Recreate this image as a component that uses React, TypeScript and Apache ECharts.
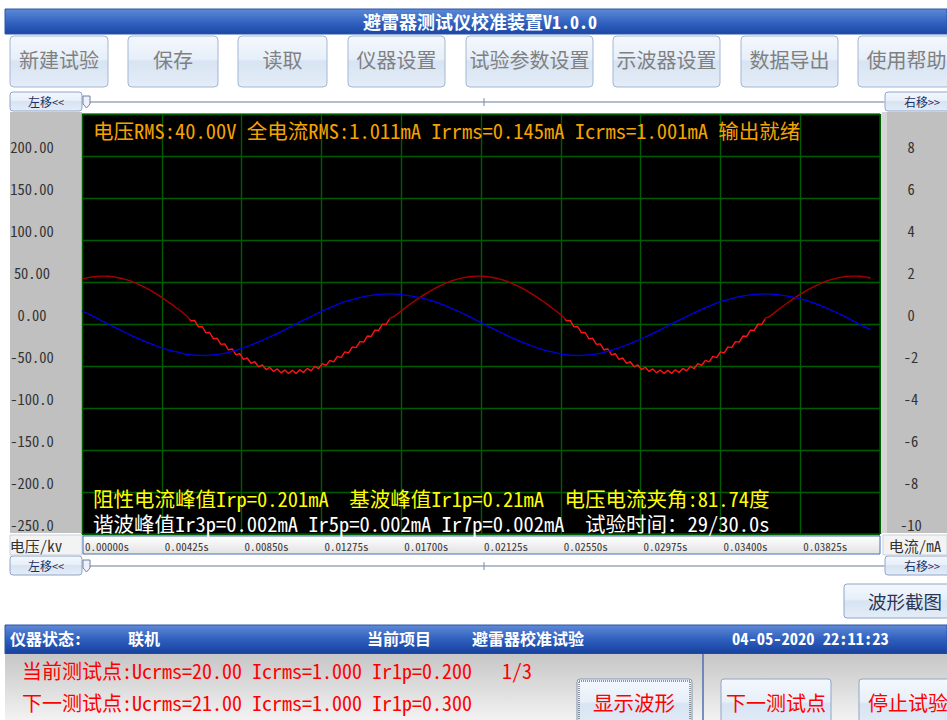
import React, { useEffect, useRef } from 'react';
import * as echarts from 'echarts';

const W = 947;
const H = 720;

// ---- data ----
// voltage trace (red, left axis), one sample every 0.2 ms starting at 0 ms
const redStepMs = 0.2;
const redVoltage = [
  53.5, 54.6, 55.5, 56.2, 56.7, 57.0, 57.0, 56.8, 56.4, 55.7,
  54.8, 53.8, 52.5, 51.0, 49.2, 47.3, 45.3, 43.0, 40.6, 38.0,
  35.2, 32.3, 29.3, 26.2, 23.0, 19.6, 16.3, 12.8, 9.3, 3.7,
  4.1, -3.4, -3.0, -10.6, -10.1, -17.6, -17.0, -24.3, -23.6, -30.7,
  -29.7, -36.7, -35.4, -42.1, -40.5, -46.8, -44.9, -50.9, -48.6, -54.2,
  -51.5, -56.6, -53.5, -58.2, -54.7, -59.0, -55.0, -58.8, -54.4, -57.7,
  -52.8, -55.8, -50.5, -53.0, -47.2, -49.3, -43.3, -45.0, -38.6, -40.0,
  -33.2, -34.3, -27.3, -28.2, -21.0, -21.6, -14.3, -14.8, -7.3, -7.7,
  -0.1, -0.6, 7.0, 8.6, 12.1, 15.6, 19.0, 22.3, 25.6, 28.7,
  31.7, 34.7, 37.4, 40.1, 42.5, 44.8, 46.9, 48.9, 50.6, 52.2,
  53.5, 54.6, 55.5, 56.2, 56.7, 57.0, 57.0, 56.8, 56.4, 55.7,
  54.8, 53.8, 52.5, 51.0, 49.2, 47.3, 45.3, 43.0, 40.6, 38.0,
  35.2, 32.3, 29.3, 26.2, 23.0, 19.6, 16.3, 12.8, 9.3, 3.7,
  4.1, -3.4, -3.0, -10.6, -10.1, -17.6, -17.0, -24.3, -23.6, -30.7,
  -29.7, -36.7, -35.4, -42.1, -40.5, -46.8, -44.9, -50.9, -48.6, -54.2,
  -51.5, -56.6, -53.5, -58.2, -54.7, -59.0, -55.0, -58.8, -54.4, -57.7,
  -52.8, -55.8, -50.5, -53.0, -47.2, -49.3, -43.3, -45.0, -38.6, -40.0,
  -33.2, -34.3, -27.3, -28.2, -21.0, -21.6, -14.3, -14.8, -7.3, -7.7,
  -0.1, -0.6, 7.0, 8.6, 12.1, 15.6, 19.0, 22.3, 25.6, 28.7,
  31.7, 34.7, 37.4, 40.1, 42.5, 44.8, 46.9, 48.9, 50.6, 52.2,
  53.5, 54.6, 55.5, 56.2, 56.7, 57.0, 57.0, 56.8, 56.4, 55.7,
  54.8,
];

// current trace (blue, right axis), one sample every 0.5 ms starting at 0 ms
const blueStepMs = 0.5;
const blueCurrent = [
  0.62, 0.41, 0.18, -0.05, -0.27, -0.49, -0.70, -0.89, -1.06, -1.21,
  -1.32, -1.43, -1.48, -1.50, -1.47, -1.41, -1.30, -1.16, -1.00, -0.82,
  -0.62, -0.41, -0.18, 0.05, 0.27, 0.49, 0.70, 0.89, 1.06, 1.19,
  1.30, 1.37, 1.42, 1.43, 1.40, 1.34, 1.26, 1.14, 0.99, 0.82,
  0.62, 0.41, 0.18, -0.05, -0.27, -0.49, -0.70, -0.89, -1.06, -1.21,
  -1.32, -1.43, -1.48, -1.50, -1.47, -1.41, -1.30, -1.16, -1.00, -0.82,
  -0.62, -0.41, -0.18, 0.05, 0.27, 0.49, 0.70, 0.89, 1.06, 1.19,
  1.30, 1.37, 1.42, 1.43, 1.40, 1.34, 1.26, 1.14, 0.99, 0.82,
  0.62, 0.41, 0.18, -0.05, -0.27,
];

const timeTickLabels = ['0.00000s', '0.00425s', '0.00850s', '0.01275s', '0.01700s', '0.02125s', '0.02550s', '0.02975s', '0.03400s', '0.03825s'];
const voltTickLabels = ['-250.0', '-200.0', '-150.0', '-100.0', '-50.00', '0.00', '50.00', '100.00', '150.00', '200.00'];
const currentTickLabels = ['-10', '-8', '-6', '-4', '-2', '0', '2', '4', '6', '8'];

const toolbarLabels = ['新建试验', '保存', '读取', '仪器设置', '试验参数设置', '示波器设置', '数据导出', '使用帮助'];

const overlayTop = '电压RMS:40.00V 全电流RMS:1.011mA Irrms=0.145mA Icrms=1.001mA 输出就绪';
const overlayYellow = '阻性电流峰值Irp=0.201mA  基波峰值Ir1p=0.21mA  电压电流夹角:81.74度';
const overlayWhite = '谐波峰值Ir3p=0.002mA Ir5p=0.002mA Ir7p=0.002mA  试验时间：29/30.0s';
const currentPoint = '当前测试点:Ucrms=20.00 Icrms=1.000 Ir1p=0.200   1/3';
const nextPoint = '下一测试点:Ucrms=21.00 Icrms=1.000 Ir1p=0.300';

// ---- layout (UI chrome) ----
const FONT = "'Noto Sans Mono CJK SC', 'Liberation Mono', 'Noto Sans CJK SC', monospace";
const toolbarBoxes = [
  [10, 98], [128, 90], [238, 89], [348, 97], [466, 127], [613, 107], [741, 97], [858, 97],
];
const G = { left: 82, top: 114, width: 798, height: 420 };

function vgrad(stops: [number, string][]) {
  return new echarts.graphic.LinearGradient(0, 0, 0, 1, stops.map(([offset, color]) => ({ offset, color })));
}

function txt(x: number, y: number, text: string, size: number, fill: string, opts: any = {}) {
  const align = opts.align || 'center';
  return {
    type: 'text',
    x,
    y,
    z: opts.z ?? 20,
    silent: true,
    style: {
      text,
      fill,
      fontSize: size,
      lineHeight: Math.round(size),
      fontFamily: opts.family || FONT,
      fontWeight: opts.weight || 'normal',
      align,
      verticalAlign: 'middle',
      textAlign: align,
      textVerticalAlign: 'middle',
    },
  };
}

function box(x: number, y: number, w: number, h: number, fill: any, stroke: string, r = 0, z = 1, extra: any = {}) {
  return {
    type: 'rect',
    z,
    silent: true,
    shape: { x, y, width: w, height: h, r },
    style: { fill, stroke, lineWidth: 1, ...extra },
  };
}

const btnFill = () =>
  vgrad([
    [0, '#f4f8fd'],
    [0.45, '#e7eff9'],
    [0.5, '#d8e4f3'],
    [1, '#e4edf8'],
  ]);

function buildGraphics() {
  const els: any[] = [];
  // title bar
  els.push(box(5, 9, 942, 25, vgrad([[0, '#5d8ad6'], [0.5, '#3465c2'], [1, '#1a47a5']]), '#2a56a8'));
  els.push(txt(480, 20.5, '避雷器测试仪校准装置V1.0.0', 18, '#ffffff', { weight: 'bold' }));

  // toolbar
  toolbarLabels.forEach((label, i) => {
    const [x, w] = toolbarBoxes[i];
    els.push(box(x, 36, w, 51, btnFill(), '#a3b7d3', 4));
    els.push(txt(x + w / 2, 59.5, label, 20, '#808080'));
  });

  // slider rows
  [92, 556].forEach((y0) => {
    els.push(box(10, y0, 72, 19, btnFill(), '#8ea5c7', 3));
    els.push(txt(46, y0 + 9.5, '左移<<', 12, '#1e2f66'));
    els.push(box(885, y0, 70, 19, btnFill(), '#8ea5c7', 3));
    els.push(txt(922, y0 + 9.5, '右移>>', 12, '#1e2f66'));
    els.push(box(90, y0 + 9, 795, 2, '#b3bfcf', 'none', 0));
    els.push({
      type: 'polygon',
      z: 2,
      silent: true,
      shape: { points: [[83, y0 + 4], [90, y0 + 4], [90, y0 + 12], [86.5, y0 + 16], [83, y0 + 12]] },
      style: { fill: '#eef2f8', stroke: '#6d809f', lineWidth: 1 },
    });
    els.push({
      type: 'line',
      z: 2,
      silent: true,
      shape: { x1: 484, y1: y0 + 6, x2: 484, y2: y0 + 14 },
      style: { stroke: '#7d8ca3', lineWidth: 1 },
    });
  });

  // side panels
  els.push(box(10, 112, 72, 421, '#c0c0c0', 'none'));
  els.push(box(882, 112, 65, 421, '#c0c0c0', 'none'));
  els.push(box(882, 112, 5, 421, '#d6d6d6', 'none'));
  els.push(box(10, 535, 72, 20, '#f3f3f3', '#c9d3e0'));
  els.push(box(883, 535, 64, 20, '#f3f3f3', '#c9d3e0'));
  els.push(txt(36, 545, '电压/kv', 15, '#333333'));
  els.push(txt(915, 545, '电流/mA', 15, '#333333'));
  // time label strip
  els.push(box(83, 536, 797, 18, vgrad([[0, '#ffffff'], [1, '#e2e2e2']]), '#4a70b8'));

  // screenshot button
  els.push(box(844, 584, 110, 34, btnFill(), '#8ea5c7', 3));
  els.push(txt(905, 601, '波形截图', 18.5, '#2a3654'));

  // status bar
  els.push(box(5, 625, 942, 29, vgrad([[0, '#5e8ad6'], [0.5, '#2f5fbe'], [1, '#153f9c']]), '#2c55a6'));
  els.push(txt(10, 638, '仪器状态:', 16, '#ffffff', { align: 'left', weight: 'bold' }));
  els.push(txt(128, 638, '联机', 16, '#ffffff', { align: 'left', weight: 'bold' }));
  els.push(txt(367, 638, '当前项目', 16, '#ffffff', { align: 'left', weight: 'bold' }));
  els.push(txt(472, 638, '避雷器校准试验', 16, '#ffffff', { align: 'left', weight: 'bold' }));
  els.push(txt(732, 638, '04-05-2020 22:11:23', 16.5, '#ffffff', { align: 'left', weight: 'bold' }));

  // lower panel
  els.push(box(5, 654, 942, 70, vgrad([[0, '#c6c6c6'], [1, '#f5f5f5']]), 'none'));
  els.push({
    type: 'line',
    z: 2,
    silent: true,
    shape: { x1: 703, y1: 654, x2: 703, y2: 720 },
    style: { stroke: '#4f6fb0', lineWidth: 1.5 },
  });
  els.push(txt(22, 670, currentPoint, 20, '#ff0000', { align: 'left' }));
  els.push(txt(22, 702, nextPoint, 20, '#ff0000', { align: 'left' }));

  els.push(box(577, 679, 115, 50, btnFill(), '#7d97bd', 3));
  els.push(box(579, 681, 111, 46, 'none', '#333333', 0, 2, { lineDash: [1, 1] }));
  els.push(txt(634, 702, '显示波形', 20.5, '#ff0000'));
  els.push(box(721, 679, 110, 50, btnFill(), '#8ea5c7', 3));
  els.push(txt(776, 702, '下一测试点', 20, '#ff0000'));
  els.push(box(859, 679, 100, 50, btnFill(), '#8ea5c7', 3));
  els.push(txt(908, 702, '停止试验', 20, '#ff0000'));

  // overlay readouts on the scope screen
  els.push(txt(93, 130, overlayTop, 20.5, '#f5a300', { align: 'left', z: 40 }));
  els.push(txt(93, 497.5, overlayYellow, 20.5, '#ffff00', { align: 'left', z: 40 }));
  els.push(txt(93, 523, overlayWhite, 20.5, '#ffffff', { align: 'left', z: 40 }));
  return els;
}

function buildOption(): any {
  const redData = redVoltage.map((v, i) => [Math.round(i * redStepMs * 100) / 100, v]);
  const blueData = blueCurrent.map((v, i) => [Math.round(i * blueStepMs * 100) / 100, v]);
  const gridLine = { show: true, lineStyle: { color: '#005c00', width: 1.4 } };
  // stroke colour of the voltage trace: darker above ~+6, brighter in the rippled lower part
  const splitY = G.top + G.height / 2 - 6 * (G.height / 500);
  const splitOff = (splitY - G.top) / G.height;
  const redStroke = new echarts.graphic.LinearGradient(
    0, G.top, 0, G.top + G.height,
    [
      { offset: 0, color: '#a60000' },
      { offset: splitOff, color: '#a60000' },
      { offset: splitOff + 0.002, color: '#ff1414' },
      { offset: 1, color: '#ff1414' },
    ],
    true
  );
  return {
    animation: false,
    backgroundColor: '#ffffff',
    grid: {
      ...G,
      show: true,
      backgroundColor: '#000000',
      borderColor: '#0b5f0b',
      borderWidth: 1,
      containLabel: false,
    },
    xAxis: {
      type: 'value',
      min: 0,
      max: 42.5,
      interval: 4.25,
      z: 5,
      axisLine: { show: false },
      axisTick: { show: false },
      splitLine: gridLine,
      axisLabel: {
        formatter: (_v: number, i: number) => timeTickLabels[i] ?? '',
        align: 'left',
        verticalAlign: 'middle',
        padding: [0, 0, 0, 3],
        margin: 12,
        fontSize: 11,
        fontFamily: FONT,
        color: '#3a3a3a',
        showMaxLabel: false,
      },
    },
    yAxis: [
      {
        type: 'value',
        min: -250,
        max: 250,
        interval: 50,
        position: 'left',
        z: 5,
        axisLine: { show: false },
        axisTick: { show: false },
        splitLine: gridLine,
        axisLabel: {
          formatter: (_v: number, i: number) => voltTickLabels[i] ?? '',
          align: 'center',
          verticalAlign: 'bottom',
          lineHeight: 18,
          padding: [0, 0, 1, 0],
          margin: 50,
          fontSize: 14.5,
          fontFamily: FONT,
          color: '#333333',
          showMaxLabel: false,
        },
      },
      {
        type: 'value',
        min: -10,
        max: 10,
        interval: 2,
        position: 'right',
        z: 5,
        axisLine: { show: false },
        axisTick: { show: false },
        splitLine: { show: false },
        axisLabel: {
          formatter: (_v: number, i: number) => currentTickLabels[i] ?? '',
          align: 'center',
          verticalAlign: 'bottom',
          lineHeight: 18,
          padding: [0, 0, 1, 0],
          margin: 31,
          fontSize: 14.5,
          fontFamily: FONT,
          color: '#333333',
          showMaxLabel: false,
        },
      },
    ],
    series: [
      {
        name: '电压',
        type: 'line',
        data: redData,
        yAxisIndex: 0,
        symbol: 'none',
        showSymbol: false,
        z: 6,
        lineStyle: { width: 1.4, color: redStroke },
        itemStyle: { color: '#c00000' },
      },
      {
        name: '电流',
        type: 'line',
        data: blueData,
        yAxisIndex: 1,
        symbol: 'none',
        showSymbol: false,
        smooth: 0.3,
        z: 7,
        lineStyle: { width: 1.3, color: '#0000e6' },
        itemStyle: { color: '#0000e6' },
      },
    ],
    graphic: { elements: buildGraphics() },
  };
}

export default function App() {
  const ref = useRef<HTMLDivElement>(null);
  useEffect(() => {
    if (!ref.current) return;
    const chart = echarts.init(ref.current, null, { renderer: 'svg', width: W, height: H });
    chart.setOption(buildOption());
    return () => chart.dispose();
  }, []);
  return (
    <div
      ref={ref}
      style={{ position: 'absolute', left: 0, top: 0, width: W, height: H, background: '#ffffff' }}
    />
  );
}
